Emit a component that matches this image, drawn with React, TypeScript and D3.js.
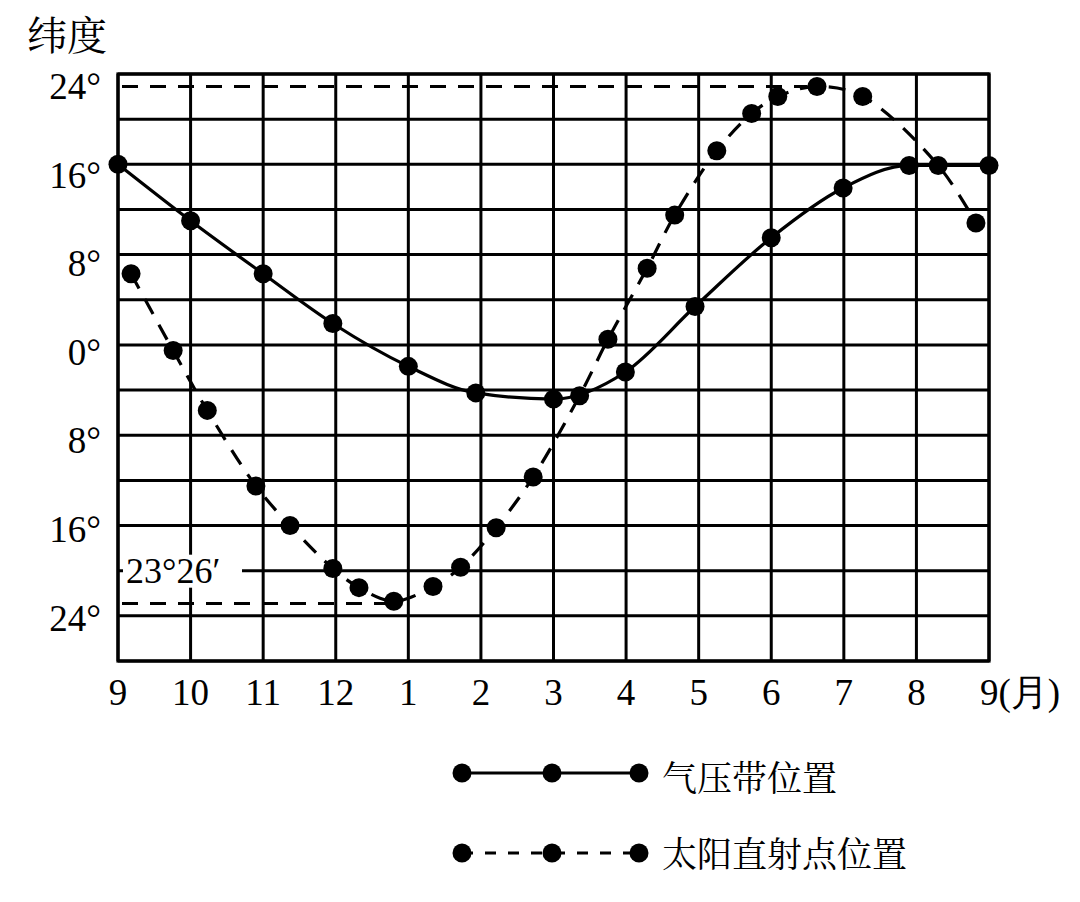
import React from "react";
import * as d3 from "d3";

// Month index 0 = September ... 12 = next September
const MONTH_LABELS = ["9", "10", "11", "12", "1", "2", "3", "4", "5", "6", "7", "8", "9"];
const Y_TICK_VALUES = [24, 16, 8, 0, -8, -16, -24];
const GRID_LATS = d3.range(-28, 25, 4);

// 气压带位置 (pressure belt position)
const PRESSURE_X = [0, 1, 2, 2.96, 4, 4.93, 6, 6.99, 7.95, 9, 9.99, 10.9, 12];
const PRESSURE_Y = [16, 11, 6.3, 1.9, -1.9, -4.25, -4.8, -2.4, 3.4, 9.5, 13.9, 15.9, 15.9];

// 太阳直射点位置 (subsolar point position)
const SUN_X = [0.18, 0.76, 1.23, 1.9, 2.37, 2.96, 3.32, 3.8, 4.34, 4.72, 5.21, 5.72, 6.36, 6.75, 7.29, 7.67, 8.25, 8.73, 9.09, 9.63, 10.26, 11.3, 11.82];
const SUN_Y = [6.3, -0.5, -5.8, -12.5, -16.0, -19.8, -21.5, -22.7, -21.4, -19.7, -16.2, -11.7, -4.5, 0.5, 6.8, 11.5, 17.2, 20.5, 22.0, 22.9, 22.0, 15.9, 10.8];

const TROPIC = 22.9; // drawn position of 23°26′
const TROPIC_N_END = 9.5;
const TROPIC_S_END = 3.7;

const SERIF = "'Liberation Serif'";
const CJK = "'Noto Serif CJK SC', 'Noto Sans CJK SC'";

export default function App() {
  const W = 1080, H = 902;
  const x = d3.scaleLinear().domain([0, 12]).range([118, 989]);
  const y = d3.scaleLinear().domain([-28, 24]).range([661, 74]);

  const pressure = PRESSURE_X.map((v, i) => [v, PRESSURE_Y[i]] as [number, number]);
  const sun = SUN_X.map((v, i) => [v, SUN_Y[i]] as [number, number]);

  const solidLine = d3.line<[number, number]>().x(d => x(d[0])).y(d => y(d[1])).curve(d3.curveMonotoneX);
  const dashLine = d3.line<[number, number]>().x(d => x(d[0])).y(d => y(d[1])).curve(d3.curveCatmullRom.alpha(0.5));

  const R = 9.5;
  const gridW = 3;
  const labelY = -20;

  return (
    <svg width={W} height={H} style={{ position: "absolute", left: 0, top: 0, fontFamily: SERIF }}>
      <rect x={0} y={0} width={W} height={H} fill="#fff" />
      {/* grid */}
      <g stroke="#000" strokeWidth={gridW}>
        {GRID_LATS.map(v => (
          <line key={"h" + v} x1={x(0)} x2={x(12)} y1={y(v)} y2={y(v)} />
        ))}
        {d3.range(0, 13).map(m => (
          <line key={"v" + m} x1={x(m)} x2={x(m)} y1={y(24)} y2={y(-28)} />
        ))}
      </g>
      <rect x={x(0)} y={y(24)} width={x(12) - x(0)} height={y(-28) - y(24)} fill="none" stroke="#000" strokeWidth={3.2} />

      {/* tropic reference lines */}
      <g stroke="#000" strokeWidth={3} strokeDasharray="16,12">
        <line x1={x(0) + 4} x2={x(TROPIC_N_END)} y1={y(TROPIC)} y2={y(TROPIC)} />
        <line x1={x(0) + 4} x2={x(TROPIC_S_END)} y1={y(-TROPIC)} y2={y(-TROPIC)} />
      </g>

      {/* 23°26′ label */}
      <rect x={x(0) + 5} y={y(labelY) - 16} width={119} height={33} fill="#fff" />
      <text x={x(0) + 8} y={y(labelY) + 12} fontSize={36} style={{ fontFamily: SERIF }}>
        23°26′
      </text>

      {/* series lines */}
      <path d={solidLine(pressure) || ""} fill="none" stroke="#000" strokeWidth={3.2} />
      <path d={dashLine(sun) || ""} fill="none" stroke="#000" strokeWidth={3.2} strokeDasharray="17,12" />

      {/* dots */}
      <g fill="#000">
        {pressure.map((d, i) => (
          <circle key={"p" + i} cx={x(d[0])} cy={y(d[1])} r={R} />
        ))}
        {sun.map((d, i) => (
          <circle key={"s" + i} cx={x(d[0])} cy={y(d[1])} r={R} />
        ))}
      </g>

      {/* y axis labels */}
      {Y_TICK_VALUES.map(v => (
        <text key={"y" + v} x={101} y={y(v) + 20 + v * 0.22} fontSize={37} textAnchor="end" style={{ fontFamily: SERIF }}>
          {Math.abs(v) + "°"}
        </text>
      ))}

      {/* x axis labels */}
      {MONTH_LABELS.map((m, i) =>
        i < 12 ? (
          <text key={"x" + i} x={x(i)} y={705} fontSize={37} textAnchor="middle" style={{ fontFamily: SERIF }}>
            {m}
          </text>
        ) : (
          <text key={"x" + i} x={x(i) - 9} y={705} fontSize={37} style={{ fontFamily: SERIF }}>
            {m + "(月)"}
          </text>
        )
      )}

      {/* y title */}
      <text x={27} y={50} fontSize={40} style={{ fontFamily: CJK }}>
        纬度
      </text>

      {/* legend */}
      <line x1={462} x2={639} y1={773} y2={773} stroke="#000" strokeWidth={3} />
      {[462, 552, 639].map(cx => (
        <circle key={"l1" + cx} cx={cx} cy={773} r={R} fill="#000" />
      ))}
      <text x={662} y={791} fontSize={35} style={{ fontFamily: CJK }}>
        气压带位置
      </text>
      <line x1={462} x2={639} y1={853} y2={853} stroke="#000" strokeWidth={3} strokeDasharray="11,12" />
      {[462, 552, 639].map(cx => (
        <circle key={"l2" + cx} cx={cx} cy={853} r={R} fill="#000" />
      ))}
      <text x={662} y={867} fontSize={35} style={{ fontFamily: CJK }}>
        太阳直射点位置
      </text>
    </svg>
  );
}
